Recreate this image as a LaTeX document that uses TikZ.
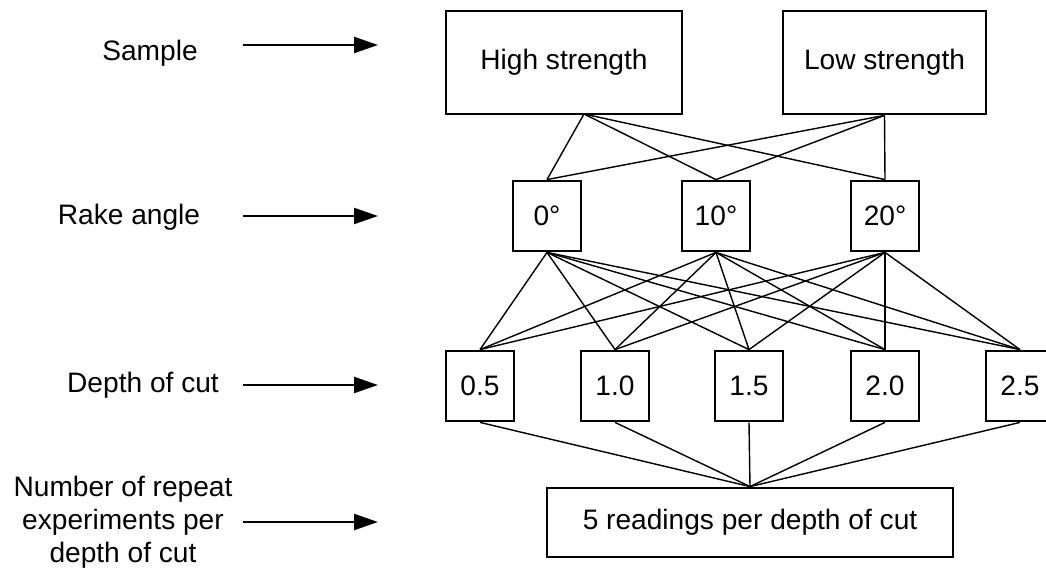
\documentclass[tikz,border=0pt]{standalone}
\usepackage{fontspec}
\setmainfont{Liberation Sans}
\usepackage{tikz}
\usetikzlibrary{shapes}
\usetikzlibrary{positioning}
\usetikzlibrary{arrows.meta}
\tikzset{
    mynodes/.style = {rectangle, line width=2.0pt, draw=black, align=center, fill=white, inner sep=0pt, font=\fontsize{20}{23}\selectfont, text=black},
    mynodea/.style = {mynodes, minimum width=1.7cm, minimum height=1.75cm},
    mynoded/.style = {mynodes, minimum width=1.7cm, minimum height=1.75cm},
    mylabel/.style = {align=center, inner sep=0pt, font=\fontsize{20}{23.5}\selectfont, text=black},
    edgen/.style = {-, line width=1.0pt, black},
    arrown/.style = {-{Triangle[length=0.6cm, width=0.4cm]}, line width=1.6pt, black}
}

\begin{document}
\begin{tikzpicture}[scale=1.00]
\useasboundingbox (0.0, 0.0) rectangle (26.15, -14.3);
% sample
\node[mynodes, minimum width=5.9cm, minimum height=2.575cm] at (14.10, -1.5625) (hs) {High strength};
\node[mynodes, minimum width=5.075cm, minimum height=2.575cm] at (22.1125, -1.5625) (ls) {Low strength};
\coordinate (hsb) at (14.6, -2.85);
% rake angle
\node[mynodea] at (13.675, -5.4) (r0) {0°};
\node[mynodea] at (17.9, -5.4) (r10) {10°};
\node[mynodea] at (22.125, -5.4) (r20) {20°};
% depth of cut
\node[mynoded] at (12.0, -9.65) (d05) {0.5};
\node[mynoded] at (15.375, -9.65) (d10) {1.0};
\node[mynoded] at (18.725, -9.65) (d15) {1.5};
\node[mynoded] at (22.125, -9.65) (d20) {2.0};
\node[mynoded] at (25.5, -9.65) (d25) {2.5};
% readings
\node[mynodes, minimum width=10.15cm, minimum height=1.725cm] at (18.75, -13.0625) (rd) {5 readings per depth of cut};
%
\node[mylabel] at (3.75, -1.325) (lsample) {Sample};
\node[mylabel] at (3.225, -5.425) (lrake) {Rake angle};
\node[mylabel] at (3.575, -9.625) (ldepth) {Depth of cut};
\node[mylabel] at (3.075, -13.05) (lrepeat) {Number of repeat\\experiments per\\depth of cut};
\coordinate (a1s) at (6.075, -1.125);
\coordinate (a1e) at (9.45, -1.125);
\coordinate (a2s) at (6.075, -5.4);
\coordinate (a2e) at (9.45, -5.4);
\coordinate (a3s) at (6.075, -9.625);
\coordinate (a3e) at (9.45, -9.625);
\coordinate (a4s) at (6.075, -13.05);
\coordinate (a4e) at (9.45, -13.05);
\draw[arrown] (a1s) -- (a1e);
\draw[arrown] (a2s) -- (a2e);
\draw[arrown] (a3s) -- (a3e);
\draw[arrown] (a4s) -- (a4e);
%
\draw[edgen] (hsb) edge node {} (r0.north);
\draw[edgen] (hsb) edge node {} (r10.north);
\draw[edgen] (hsb) edge node {} (r20.north);
\draw[edgen] (ls.south) edge node {} (r0.north);
\draw[edgen] (ls.south) edge node {} (r10.north);
\draw[edgen] (ls.south) edge node {} (r20.north);
%
\draw[edgen] (r0.south) edge node {} (d05.north);
\draw[edgen] (r0.south) edge node {} (d10.north);
\draw[edgen] (r0.south) edge node {} (d15.north);
\draw[edgen] (r0.south) edge node {} (d20.north);
\draw[edgen] (r0.south) edge node {} (d25.north);
\draw[edgen] (r10.south) edge node {} (d05.north);
\draw[edgen] (r10.south) edge node {} (d10.north);
\draw[edgen] (r10.south) edge node {} (d15.north);
\draw[edgen] (r10.south) edge node {} (d20.north);
\draw[edgen] (r10.south) edge node {} (d25.north);
\draw[edgen] (r20.south) edge node {} (d05.north);
\draw[edgen] (r20.south) edge node {} (d10.north);
\draw[edgen] (r20.south) edge node {} (d15.north);
\draw[edgen] (r20.south) edge node {} (d20.north);
\draw[edgen] (r20.south) edge node {} (d25.north);
%
\draw[edgen] (d05.south) edge node {} (rd.north);
\draw[edgen] (d10.south) edge node {} (rd.north);
\draw[edgen] (d15.south) edge node {} (rd.north);
\draw[edgen] (d20.south) edge node {} (rd.north);
\draw[edgen] (d25.south) edge node {} (rd.north);
\end{tikzpicture}
\end{document}
